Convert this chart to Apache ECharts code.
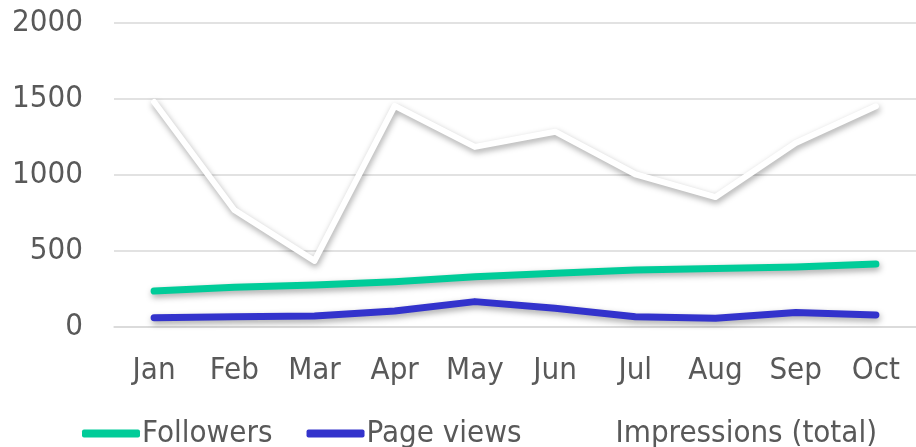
<!DOCTYPE html>
<html><head><meta charset="utf-8">
<script src="https://cdn.jsdelivr.net/npm/echarts@6/dist/echarts.min.js"></script>
<style>html,body{margin:0;padding:0;background:#fff}#c{width:916px;height:447px}</style>
</head><body><div id="c"></div>
<script>
const months = ['Jan','Feb','Mar','Apr','May','Jun','Jul','Aug','Sep','Oct'];
const followers = [237, 261, 276, 298, 331, 353, 375, 385, 395, 414];
const pageViews = [61, 68, 72, 105, 167, 123, 68, 57, 95, 79];
const impressions = [1480, 770, 435, 1455, 1185, 1285, 1005, 855, 1210, 1452];
const yTicks = [0, 500, 1000, 1500, 2000];

const FONT = '"DejaVu Sans Condensed", "DejaVu Sans", sans-serif';
const TXT = '#595959';
const FS = 31;
const shadow = {shadowColor:'rgba(0,0,0,0.35)', shadowBlur:6, shadowOffsetX:1, shadowOffsetY:3};
const chart = echarts.init(document.getElementById('c'), null, {renderer:'canvas'});
chart.setOption({
  animation:false,
  backgroundColor:'#fff',
  grid:{left:114, right:-13, top:23, bottom:120, containLabel:false},
  xAxis:{type:'category', data:months, boundaryGap:true,
    axisTick:{show:false},
    axisLine:{show:true, lineStyle:{color:'#d9d9d9', width:1.5}},
    axisLabel:{color:TXT, fontFamily:FONT, fontSize:FS, margin:28}},
  yAxis:{type:'value', min:yTicks[0], max:yTicks[yTicks.length-1], interval:500,
    axisLine:{show:false}, axisTick:{show:false},
    splitLine:{lineStyle:{color:'#d9d9d9', width:1.5}},
    axisLabel:{color:TXT, fontFamily:FONT, fontSize:FS, margin:31, formatter:function(v){return String(v);}}},
  legend:{left:77, top:413, itemWidth:58, itemHeight:8, itemGap:34, icon:'roundRect',
    textStyle:{color:TXT, fontFamily:FONT, fontSize:FS, padding:[0,0,0,-3]},
    data:['Followers','Page views','Impressions (total)']},
  series:[
    {name:'Impressions (total)', type:'line', data:impressions, showSymbol:false, symbol:'none',
      color:'#ffffff', lineStyle:Object.assign({color:'#ffffff', width:6, cap:'round', join:'round'}, shadow), z:2},
    {name:'Followers', type:'line', data:followers, showSymbol:false, symbol:'none',
      color:'#00CC99', lineStyle:Object.assign({color:'#00CC99', width:7, cap:'round', join:'round'}, shadow), z:3},
    {name:'Page views', type:'line', data:pageViews, showSymbol:false, symbol:'none',
      color:'#3333CC', lineStyle:Object.assign({color:'#3333CC', width:7, cap:'round', join:'round'}, shadow), z:3}
  ]
});
</script></body></html>
